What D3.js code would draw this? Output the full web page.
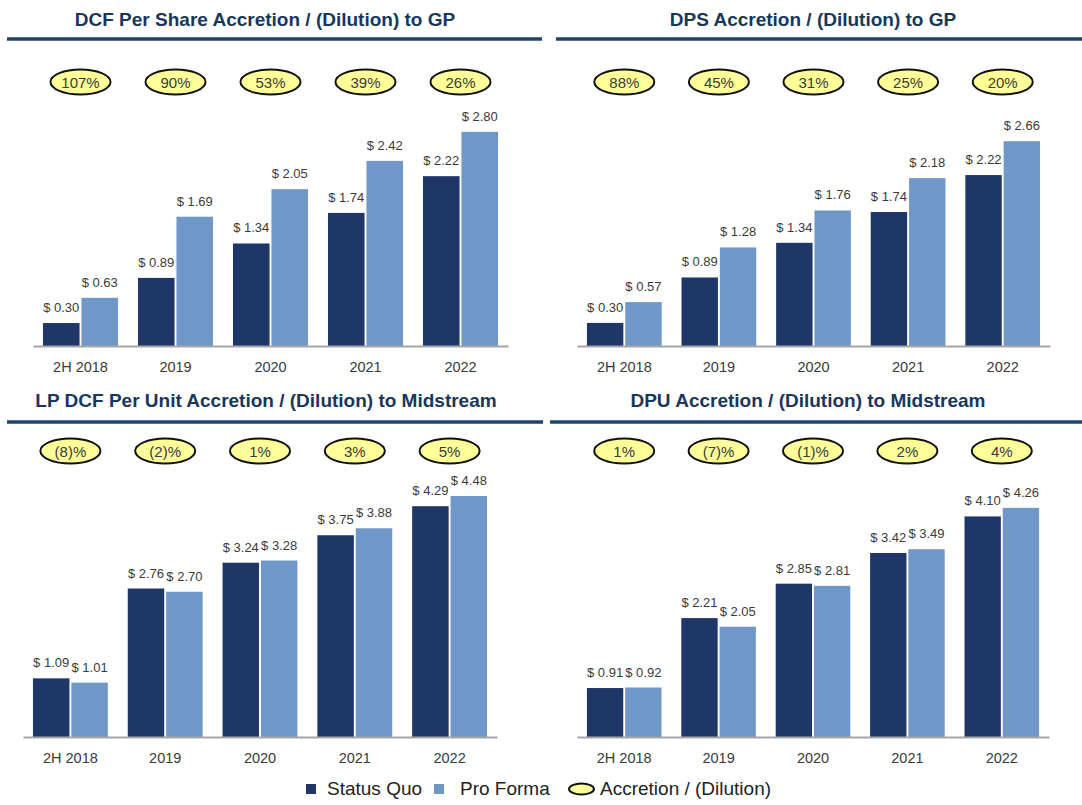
<!DOCTYPE html>
<html>
<head>
<meta charset="utf-8">
<script src="https://cdn.jsdelivr.net/npm/d3@7"></script>
<style>
  html, body { margin: 0; padding: 0; background: #ffffff; }
  svg { display: block; font-family: "Liberation Sans", Arial, sans-serif; }
</style>
</head>
<body>
<svg id="chart" width="1082" height="805"></svg>
<script>
// ---------- data ----------
const categories = ["2H 2018", "2019", "2020", "2021", "2022"];
const seriesNames = ["Status Quo", "Pro Forma"];

const dcfTitle = "DCF Per Share Accretion / (Dilution) to GP";
const dcfStatusQuo = [0.30, 0.89, 1.34, 1.74, 2.22];
const dcfProForma = [0.63, 1.69, 2.05, 2.42, 2.80];
const dcfAccretion = ["107%", "90%", "53%", "39%", "26%"];

const dpsTitle = "DPS Accretion / (Dilution) to GP";
const dpsStatusQuo = [0.30, 0.89, 1.34, 1.74, 2.22];
const dpsProForma = [0.57, 1.28, 1.76, 2.18, 2.66];
const dpsAccretion = ["88%", "45%", "31%", "25%", "20%"];

const lpTitle = "LP DCF Per Unit Accretion / (Dilution) to Midstream";
const lpStatusQuo = [1.09, 2.76, 3.24, 3.75, 4.29];
const lpProForma = [1.01, 2.70, 3.28, 3.88, 4.48];
const lpAccretion = ["(8)%", "(2)%", "1%", "3%", "5%"];

const dpuTitle = "DPU Accretion / (Dilution) to Midstream";
const dpuStatusQuo = [0.91, 2.21, 2.85, 3.42, 4.10];
const dpuProForma = [0.92, 2.05, 2.81, 3.49, 4.26];
const dpuAccretion = ["1%", "(7)%", "(1)%", "2%", "4%"];

const legendAccretion = "Accretion / (Dilution)";

// ---------- styling / layout ----------
const colDark = "#1f3668";
const colLight = "#6f98c8";
const colTitle = "#17375e";
const colRule = "#1f4272";
const colText = "#3a3a3a";

const panels = [
  { title: dcfTitle, sq: dcfStatusQuo, pf: dcfProForma, acc: dcfAccretion,
    ax: [33, 508], base: 346, yMax: 3.0, yTop: 346 - 3.0 * 76.5,
    tx: 265, ty: 26, rule: [7, 542], ry: 39, ey: 82 },
  { title: dpsTitle, sq: dpsStatusQuo, pf: dpsProForma, acc: dpsAccretion,
    ax: [577, 1050], base: 346, yMax: 3.0, yTop: 346 - 3.0 * 77,
    tx: 813, ty: 26, rule: [556, 1082], ry: 39, ey: 82 },
  { title: lpTitle, sq: lpStatusQuo, pf: lpProForma, acc: lpAccretion,
    ax: [23, 497], base: 737, yMax: 4.5, yTop: 737 - 4.5 * 53.8,
    tx: 266, ty: 407, rule: [7, 543], ry: 422, ey: 451 },
  { title: dpuTitle, sq: dpuStatusQuo, pf: dpuProForma, acc: dpuAccretion,
    ax: [577, 1049], base: 737, yMax: 4.5, yTop: 737 - 4.5 * 53.8,
    tx: 808, ty: 407, rule: [550, 1082], ry: 422, ey: 451 }
];

const svg = d3.select("#chart");
svg.append("rect").attr("width", 1082).attr("height", 805).attr("fill", "#fff");

panels.forEach(p => {
  const g = svg.append("g");

  // title + rule
  g.append("text")
    .attr("x", p.tx).attr("y", p.ty)
    .attr("text-anchor", "middle")
    .attr("font-size", 19).attr("font-weight", "bold")
    .attr("fill", colTitle)
    .text(p.title);
  g.append("line")
    .attr("x1", p.rule[0]).attr("x2", p.rule[1])
    .attr("y1", p.ry).attr("y2", p.ry)
    .attr("stroke", colRule).attr("stroke-width", 3.5);

  // scales
  const x = d3.scaleBand().domain(categories).range(p.ax)
    .paddingInner(0.21).paddingOuter(0.105);
  const xs = d3.scaleBand().domain(seriesNames).range([0, x.bandwidth()])
    .paddingInner(0.05);
  const y = d3.scaleLinear().domain([0, p.yMax]).range([p.base, p.yTop]);

  const rows = categories.map((c, i) => ({
    cat: c,
    vals: [{ s: "Status Quo", v: p.sq[i] }, { s: "Pro Forma", v: p.pf[i] }],
    acc: p.acc[i]
  }));

  // bars
  const grp = g.selectAll("g.cat").data(rows).enter().append("g")
    .attr("transform", d => `translate(${x(d.cat)},0)`);
  grp.selectAll("rect").data(d => d.vals).enter().append("rect")
    .attr("x", d => xs(d.s))
    .attr("y", d => y(d.v))
    .attr("width", xs.bandwidth())
    .attr("height", d => y(0) - y(d.v))
    .attr("fill", d => d.s === "Status Quo" ? colDark : colLight);
  grp.selectAll("text.val").data(d => d.vals).enter().append("text")
    .attr("class", "val")
    .attr("x", d => xs(d.s) + xs.bandwidth() / 2)
    .attr("y", d => y(d.v) - 11)
    .attr("text-anchor", "middle")
    .attr("font-size", 13)
    .attr("fill", colText)
    .text(d => "$ " + d3.format(".2f")(d.v));

  // accretion ellipses
  const eg = g.selectAll("g.acc").data(rows).enter().append("g")
    .attr("transform", d => `translate(${x(d.cat) + x.bandwidth() / 2},${p.ey})`);
  eg.append("ellipse").attr("rx", 30).attr("ry", 12.5)
    .attr("fill", "#ffff99").attr("stroke", "#111").attr("stroke-width", 2);
  eg.append("text").attr("y", 5.5).attr("text-anchor", "middle")
    .attr("font-size", 15).attr("fill", colText)
    .text(d => d.acc);

  // x axis
  const axis = g.append("g")
    .attr("transform", `translate(0,${p.base})`)
    .call(d3.axisBottom(x).tickSize(0).tickSizeOuter(0).tickPadding(15.5));
  axis.select(".domain").attr("stroke", "#a6a6a6").attr("stroke-width", 2);
  axis.selectAll("text")
    .attr("font-size", 14.5)
    .attr("font-family", "'Liberation Sans', Arial, sans-serif")
    .attr("fill", colText);
});

// legend
const legend = svg.append("g");
const legendItems = [
  { label: seriesNames[0], type: "rect", color: colDark, x: 306, tx: 327 },
  { label: seriesNames[1], type: "rect", color: colLight, x: 434, tx: 460 },
  { label: legendAccretion, type: "ellipse", color: "#ffff99", x: 568, tx: 600 }
];
legendItems.forEach(it => {
  if (it.type === "rect") {
    legend.append("rect").attr("x", it.x).attr("y", 784)
      .attr("width", 10).attr("height", 10).attr("fill", it.color);
  } else {
    legend.append("ellipse").attr("cx", it.x + 13.5).attr("cy", 789)
      .attr("rx", 12.5).attr("ry", 5.5)
      .attr("fill", it.color).attr("stroke", "#111").attr("stroke-width", 2);
  }
  legend.append("text").attr("x", it.tx).attr("y", 795)
    .attr("font-size", 19).attr("fill", "#222")
    .text(it.label);
});
</script>
</body>
</html>
